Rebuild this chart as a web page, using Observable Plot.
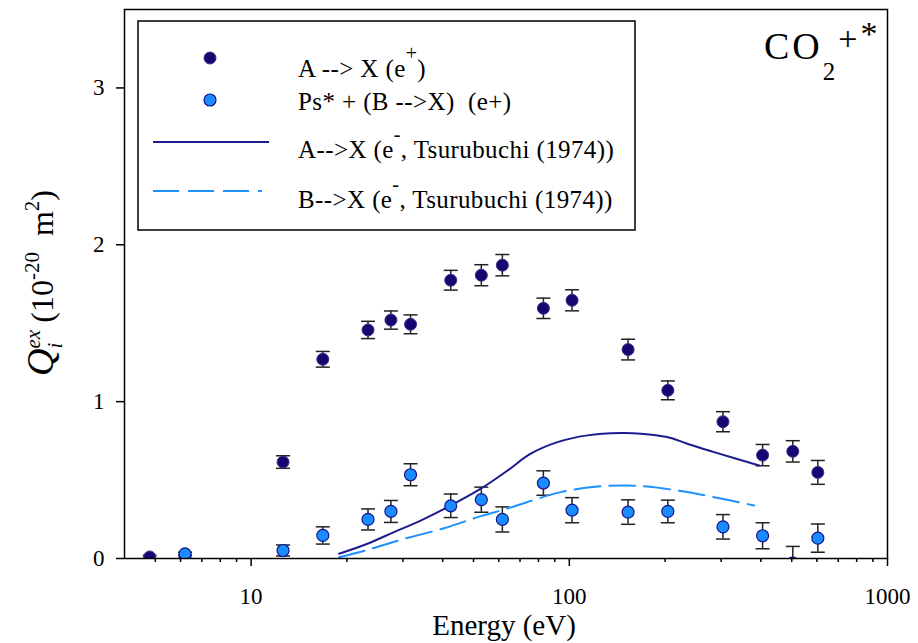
<!DOCTYPE html>
<html>
<head>
<meta charset="utf-8">
<script src="https://cdn.jsdelivr.net/npm/d3@7"></script>
<script src="https://cdn.jsdelivr.net/npm/@observablehq/plot@0.6"></script>
<style>
  html, body { margin: 0; padding: 0; background: white; }
  #chart svg { display: block; }
  #chart svg text, #chart svg tspan { font-family: "Liberation Serif", "Times New Roman", Tinos, "DejaVu Serif", serif; }
</style>
</head>
<body>
<div id="chart"></div>
<script>
// ---- data ----
const energyA = [4.8, 6.2, 12.6, 16.8, 23.3, 27.5, 31.7, 42.4, 52.9, 61.6, 82.9, 102, 153, 204, 304, 405, 504, 604];
const qA      = [0.01, 0.01, 0.615, 1.27, 1.457, 1.52, 1.493, 1.774, 1.806, 1.87, 1.595, 1.646, 1.332, 1.072, 0.872, 0.659, 0.683, 0.549];
const errA    = [0.01, 0.01, 0.04, 0.05, 0.055, 0.058, 0.06, 0.063, 0.067, 0.068, 0.065, 0.067, 0.066, 0.06, 0.064, 0.068, 0.068, 0.076];

const energyB = [6.2, 12.6, 16.8, 23.3, 27.5, 31.7, 42.4, 52.9, 61.6, 82.9, 102, 153, 204, 304, 405, 504, 604];
const qB      = [0.03, 0.051, 0.147, 0.249, 0.30, 0.534, 0.336, 0.375, 0.249, 0.481, 0.308, 0.296, 0.30, 0.202, 0.145, -0.03, 0.13];
const errB    = [0.01, 0.035, 0.055, 0.067, 0.07, 0.07, 0.075, 0.08, 0.08, 0.078, 0.08, 0.078, 0.072, 0.078, 0.083, 0.107, 0.09];

const tsuA_E = [18.9, 23.2, 28.1, 34.1, 42.4, 52.7, 63.9, 75.6, 91.8, 114, 145, 168, 203, 235, 285, 395];
const tsuA_Q = [0.03, 0.094, 0.168, 0.242, 0.338, 0.445, 0.56, 0.668, 0.742, 0.785, 0.80, 0.796, 0.774, 0.732, 0.678, 0.593];

const tsuB_E = [18.9, 23.2, 29.5, 40.4, 52.7, 60.9, 67, 94, 122.6, 148.6, 176, 224, 285, 381];
const tsuB_Q = [0.008, 0.055, 0.119, 0.193, 0.27, 0.306, 0.332, 0.423, 0.459, 0.466, 0.459, 0.43, 0.391, 0.338];

const xMajorTicks = [10, 100, 1000];
const xMinorTicks = [5, 6, 7, 8, 9, 20, 30, 40, 50, 60, 70, 80, 90, 200, 300, 400, 500, 600, 700, 800, 900];
const yTicks = [0, 1, 2, 3];

const legendLabels = ["A --> X (e", "Ps* + (B -->X)  (e+)", "A-->X (e", "B-->X (e"];

// ---- build tables ----
const dataA = energyA.map((E, i) => ({E, q: qA[i], e: errA[i]}));
const dataB = energyB.map((E, i) => ({E, q: qB[i], e: errB[i]}));
const curveA = tsuA_E.map((E, i) => ({E, q: tsuA_Q[i]}));
const curveB = tsuB_E.map((E, i) => ({E, q: tsuB_Q[i]}));

const darkFill = "#140870", darkStroke = "#4a2a8c";
const lightFill = "#1a8cff", lightStroke = "#14148a";
const navyLine = "#1c1c8e", blueLine = "#1e90ff";
const serif = "Liberation Serif, Times New Roman, Tinos, DejaVu Serif, serif";

const capSymbol = {
  draw(context, size) {
    const r = Math.sqrt(size / Math.PI);
    context.moveTo(-r, 0);
    context.lineTo(r, 0);
  }
};

const errMarks = (data) => [
  Plot.ruleX(data, {x: "E", y1: d => d.q - d.e, y2: d => d.q + d.e, stroke: "#222", strokeWidth: 1.5, clip: true}),
  Plot.dot(data, {x: "E", y: d => d.q + d.e, symbol: capSymbol, r: 7, stroke: "#222", strokeWidth: 1.5, fill: "none", clip: true}),
  Plot.dot(data, {x: "E", y: d => d.q - d.e, symbol: capSymbol, r: 7, stroke: "#222", strokeWidth: 1.5, fill: "none", clip: true})
];

const svg = Plot.plot({
  width: 918,
  height: 643,
  marginLeft: 124,
  marginRight: 31,
  marginTop: 9,
  marginBottom: 85,
  style: {fontFamily: serif, fontSize: "23px", color: "black", background: "white", overflow: "visible"},
  x: {type: "log", domain: [4, 1000]},
  y: {domain: [0, 3.5]},
  marks: [
    Plot.axisY({ticks: yTicks, tickSize: 8, tickPadding: 12, tickFormat: d3.format("d"), label: null, fontSize: 23, strokeWidth: 1.5}),
    Plot.axisX({ticks: xMajorTicks, tickSize: 8, tickPadding: 21, tickFormat: d3.format("d"), label: null, fontSize: 23, strokeWidth: 1.5}),
    Plot.axisX({ticks: xMinorTicks, tickSize: 4, tickFormat: () => "", label: null, strokeWidth: 1.5}),
    ...errMarks(dataA),
    ...errMarks(dataB),
    Plot.line(curveA, {x: "E", y: "q", stroke: navyLine, strokeWidth: 2, curve: "catmull-rom"}),
    Plot.line(curveB, {x: "E", y: "q", stroke: blueLine, strokeWidth: 2, strokeDasharray: "26,9", curve: "catmull-rom"}),
    Plot.dot(dataA, {x: "E", y: "q", r: 6, fill: darkFill, stroke: darkStroke, strokeWidth: 1, clip: true}),
    Plot.dot(dataB, {x: "E", y: "q", r: 6, fill: lightFill, stroke: lightStroke, strokeWidth: 1.2, clip: true}),
    Plot.frame({stroke: "black", strokeWidth: 1.5})
  ]
});

document.getElementById("chart").appendChild(svg);

const s = d3.select(svg);

// ---- legend ----
const lg = s.append("g").attr("text-anchor", "start").attr("fill", "black");
lg.append("rect").attr("x", 138).attr("y", 21).attr("width", 497).attr("height", 209)
  .attr("fill", "white").attr("stroke", "black").attr("stroke-width", 1.5);
lg.append("circle").attr("cx", 210).attr("cy", 58).attr("r", 6).attr("fill", darkFill).attr("stroke", darkStroke);
lg.append("circle").attr("cx", 210).attr("cy", 100).attr("r", 6).attr("fill", lightFill).attr("stroke", lightStroke).attr("stroke-width", 1.2);
lg.append("line").attr("x1", 153).attr("x2", 269).attr("y1", 142).attr("y2", 142).attr("stroke", navyLine).attr("stroke-width", 2);
lg.append("line").attr("x1", 153).attr("x2", 262).attr("y1", 191).attr("y2", 191).attr("stroke", blueLine).attr("stroke-width", 2).attr("stroke-dasharray", "26,9");

function legendText(y, main, sup, rest) {
  const t = lg.append("text").attr("x", 298).attr("y", y).attr("font-size", 25)
    .attr("text-anchor", "start").attr("letter-spacing", 0.4).style("white-space", "pre");
  t.append("tspan").text(main);
  if (sup !== null) {
    t.append("tspan").attr("font-size", 20).attr("dy", -17).text(sup);
    t.append("tspan").attr("font-size", 25).attr("dy", 17).text(rest);
  }
}
legendText(77, legendLabels[0], "+", ")");
legendText(110, legendLabels[1], null, null);
legendText(158, legendLabels[2], "-", ", Tsurubuchi (1974))");
legendText(208, legendLabels[3], "-", ", Tsurubuchi (1974))");

// ---- species label ----
const sp = s.append("text").attr("x", 764).attr("y", 59).attr("fill", "black").attr("text-anchor", "start");
sp.append("tspan").attr("font-size", 38).attr("letter-spacing", 3).text("CO");
sp.append("tspan").attr("font-size", 25).attr("dy", 21).text("2");
sp.append("tspan").attr("font-size", 34).attr("dx", 3).attr("dy", -30).text("+");
sp.append("tspan").attr("font-size", 34).attr("dx", 3).attr("dy", -5).text("*");

// ---- axis titles ----
s.append("text").attr("font-size", 29).attr("fill", "black")
  .attr("x", 504).attr("y", 635).attr("text-anchor", "middle").text("Energy (eV)");

const yl = s.append("text").attr("fill", "black")
  .attr("transform", "translate(53,283) rotate(-90)").attr("text-anchor", "middle")
  .style("white-space", "pre");
yl.append("tspan").attr("font-size", 38).attr("font-style", "italic").text("Q");
yl.append("tspan").attr("font-size", 21).attr("font-style", "italic").attr("dy", -13).text("ex");
yl.append("tspan").attr("font-size", 21).attr("font-style", "italic").attr("dx", -18.6).attr("dy", 22).text("i");
yl.append("tspan").attr("font-size", 32).attr("dx", 12).attr("dy", -9).text(" (10");
yl.append("tspan").attr("font-size", 21).attr("dy", -14).text("-20");
yl.append("tspan").attr("font-size", 32).attr("dy", 14).text("  m");
yl.append("tspan").attr("font-size", 21).attr("dy", -14).text("2");
yl.append("tspan").attr("font-size", 32).attr("dy", 14).text(")");
</script>
</body>
</html>
